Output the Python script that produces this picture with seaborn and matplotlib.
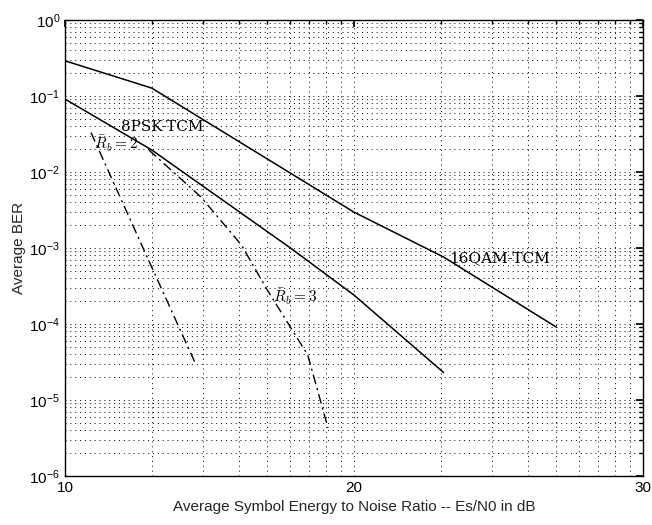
import numpy as np
import pandas as pd
import matplotlib
matplotlib.use("Agg")
import matplotlib.pyplot as plt
import matplotlib.ticker as mticker
import seaborn as sns

sns.set_theme(style="white")
plt.rcParams['font.family'] = ['Liberation Sans', 'DejaVu Sans']

# ---- data (x in dB on the displayed axis, y = average BER) ----
qam16_x = [10.0, 13.0, 20.0, 23.1, 27.0]
qam16_y = [0.29, 0.127, 2.96e-3, 7.6e-4, 9.1e-5]

psk8_x = [10.0, 13.0, 17.8, 20.0, 23.1]
psk8_y = [0.091, 0.0195, 1.0e-3, 2.4e-4, 2.3e-5]

rb2_x = [10.9, 12.7, 14.5]
rb2_y = [0.033, 1.0e-3, 3.1e-5]

rb3_x = [12.9, 14.7, 16.1, 17.0, 17.8, 18.4, 19.1]
rb3_y = [0.0195, 4.7e-3, 1.1e-3, 2.8e-4, 9.1e-5, 3.9e-5, 4.3e-6]

x_ticks = [10, 20, 30]
y_ticks = [1e-6, 1e-5, 1e-4, 1e-3, 1e-2, 1e-1, 1e0]

fig = plt.figure(figsize=(6.52, 5.25), dpi=100)
ax = fig.add_axes([0.0997, 0.0933, 0.8865, 0.8687])

solid = pd.DataFrame({"x": qam16_x + psk8_x,
                      "y": qam16_y + psk8_y,
                      "s": ["16QAM"] * len(qam16_x) + ["8PSK"] * len(psk8_x)})
sns.lineplot(data=solid, x="x", y="y", units="s", estimator=None,
             color="black", lw=1.1, ax=ax, sort=False)
dash = pd.DataFrame({"x": rb2_x + rb3_x,
                     "y": rb2_y + rb3_y,
                     "s": ["rb2"] * len(rb2_x) + ["rb3"] * len(rb3_x)})
sns.lineplot(data=dash, x="x", y="y", units="s", estimator=None,
             color="black", lw=1.0, ax=ax, sort=False,
             linestyle=(0, (7, 3, 1.5, 3)))

ax.set_yscale("log")
ax.set_xlim(10, 30)
ax.set_ylim(1e-6, 1)
ax.set_xticks(x_ticks)
ax.set_xticklabels([str(t) for t in x_ticks])
ax.set_yticks(y_ticks)
ax.yaxis.set_major_formatter(mticker.LogFormatterSciNotation())
ax.yaxis.set_minor_locator(mticker.LogLocator(base=10, subs=np.arange(2, 10)))
ax.yaxis.set_minor_formatter(mticker.NullFormatter())
minor_x = [b + 10 * np.log10(k) for b in (10, 20) for k in range(2, 10)]
ax.xaxis.set_minor_locator(mticker.FixedLocator(minor_x))

ax.grid(True, which="both", axis="both", color="black", linestyle=(0, (1, 4)), lw=0.7)
ax.tick_params(which="both", direction="in", top=True, right=True, colors="black",
               labelsize=11)
ax.tick_params(which="major", length=5)
ax.tick_params(which="minor", length=3)
for sp in ax.spines.values():
    sp.set_color("black")
    sp.set_linewidth(1.0)

ax.set_xlabel("Average Symbol Energy to Noise Ratio -- Es/N0 in dB", fontsize=11, labelpad=4)
ax.set_ylabel("Average BER", fontsize=11, labelpad=2)

tk = dict(family="DejaVu Serif", fontsize=11, color="black", math_fontfamily="cm")
ax.text(11.95, 0.039, "8PSK-TCM", va="center", ha="left", **tk)
ax.text(11.0, 0.023, r"$\bar{R}_b = 2$", va="center", ha="left", **tk)
ax.text(17.2, 2.3e-4, r"$\bar{R}_b = 3$", va="center", ha="left", **tk)
ax.text(23.3, 7.4e-4, "16QAM-TCM", va="center", ha="left", **tk)

fig.savefig("out.png", dpi=100)
